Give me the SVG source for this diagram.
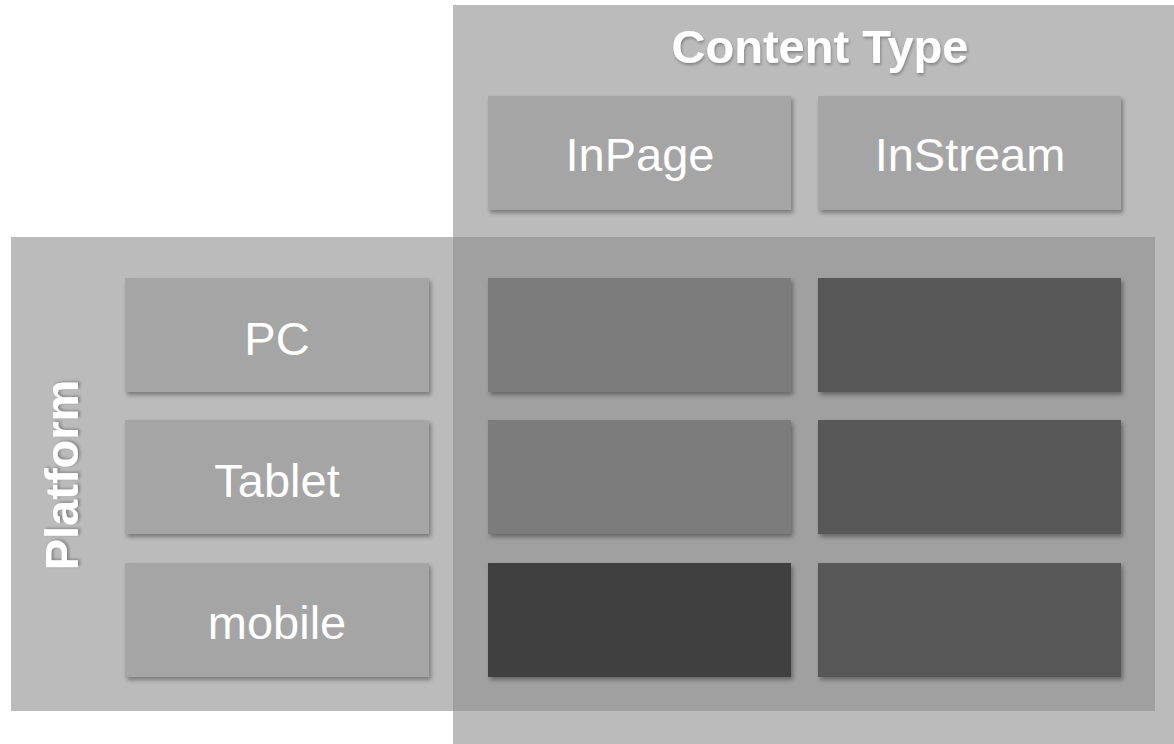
<svg xmlns="http://www.w3.org/2000/svg" width="1174" height="744" viewBox="0 0 1174 744">
<style>
.lbl{font-family:"Liberation Sans",Arial,sans-serif;fill:#ffffff;text-anchor:middle}
.cell{filter:url(#sh)}
.hdr{fill:#a5a5a5}
</style>
<defs>
<filter id="sh" x="-5%" y="-10%" width="115%" height="130%">
<feDropShadow dx="2" dy="3" stdDeviation="2" flood-color="#000" flood-opacity="0.35"/>
</filter>
<filter id="tsh" x="-10%" y="-20%" width="120%" height="150%">
<feDropShadow dx="1" dy="2" stdDeviation="1.5" flood-color="#000" flood-opacity="0.3"/>
</filter>
</defs>
<rect width="1174" height="744" fill="#ffffff"/>
<g id="content-type">
<rect x="453" y="5" width="721" height="739" fill="#8e8e8e" fill-opacity="0.6"/>
<text class="lbl" x="820" y="63" font-size="47" font-weight="bold" filter="url(#tsh)">Content Type</text>
</g>
<g id="platform">
<rect x="11" y="237" width="1144" height="474" fill="#8e8e8e" fill-opacity="0.6"/>
<text class="lbl" transform="translate(78,475) rotate(-90)" font-size="47" font-weight="bold" filter="url(#tsh)">Platform</text>
</g>
<g id="inpage"><rect class="cell hdr" x="488" y="96" width="303" height="114"/><text class="lbl" x="640" y="171" font-size="47">InPage</text></g>
<g id="instream"><rect class="cell hdr" x="818" y="96" width="303" height="114"/><text class="lbl" x="970" y="171" font-size="47">InStream</text></g>
<g id="pc"><rect class="cell hdr" x="125" y="278" width="304" height="114"/><text class="lbl" x="277" y="355" font-size="47">PC</text></g>
<g id="tablet"><rect class="cell hdr" x="125" y="420" width="304" height="114"/><text class="lbl" x="277" y="497" font-size="47">Tablet</text></g>
<g id="mobile"><rect class="cell hdr" x="125" y="563" width="304" height="114"/><text class="lbl" x="277" y="639" font-size="47">mobile</text></g>
<g id="pc-inpage"><rect class="cell" x="488" y="278" width="303" height="114" fill="#7b7b7b"/></g>
<g id="pc-instream"><rect class="cell" x="818" y="278" width="303" height="114" fill="#585858"/></g>
<g id="tablet-inpage"><rect class="cell" x="488" y="420" width="303" height="114" fill="#7b7b7b"/></g>
<g id="tablet-instream"><rect class="cell" x="818" y="420" width="303" height="114" fill="#585858"/></g>
<g id="mobile-inpage"><rect class="cell" x="488" y="563" width="303" height="114" fill="#404040"/></g>
<g id="mobile-instream"><rect class="cell" x="818" y="563" width="303" height="114" fill="#585858"/></g>
<g id="connectors"/>
</svg>
